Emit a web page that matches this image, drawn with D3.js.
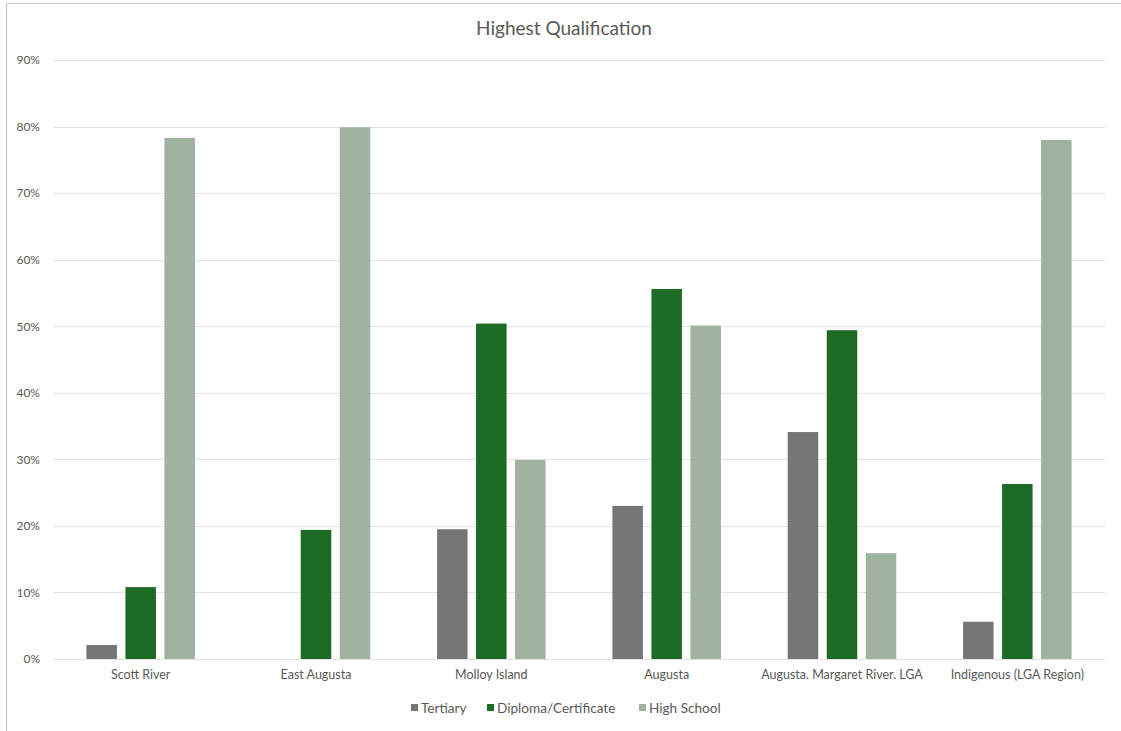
<!DOCTYPE html>
<html>
<head>
<meta charset="utf-8">
<script src="https://cdn.jsdelivr.net/npm/d3@7"></script>
<style>
  html, body { margin: 0; padding: 0; background: #fff; }
  svg { display: block; }
  text { font-family: Lato, "Noto Sans", sans-serif; }
</style>
</head>
<body>
<script>
const categories = ["Scott River", "East Augusta", "Molloy Island", "Augusta", "Augusta. Margaret River. LGA", "Indigenous (LGA Region)"];
const seriesNames = ["Tertiary", "Diploma/Certificate", "High School"];
const tertiary = [0.021, 0.0, 0.195, 0.230, 0.341, 0.056];
const diploma = [0.108, 0.194, 0.504, 0.556, 0.494, 0.263];
const highSchool = [0.783, 0.799, 0.299, 0.501, 0.159, 0.780];
const yTicks = [0, 0.1, 0.2, 0.3, 0.4, 0.5, 0.6, 0.7, 0.8, 0.9];
const colors = ["#767676", "#1E6B26", "#A0B2A0"];
const title = "Highest Qualification";

const W = 1121, H = 731;
const svg = d3.select("body").append("svg").attr("width", W).attr("height", H);

// frame
svg.append("line").attr("x1", 6.5).attr("x2", 6.5).attr("y1", 3).attr("y2", H).attr("stroke", "#c8c8c8").attr("stroke-width", 1.2);
svg.append("line").attr("x1", 6).attr("x2", W).attr("y1", 3.5).attr("y2", 3.5).attr("stroke", "#c8c8c8").attr("stroke-width", 1.2);

const x = d3.scaleBand().domain(categories).range([53, 1105]);
const y = d3.scaleLinear().domain([0, 0.9]).range([659, 60]);
const series = [tertiary, diploma, highSchool];

const barW = x.bandwidth() * 0.174;
const step = x.bandwidth() * 0.2225;

// gridlines
svg.append("g").selectAll("line").data(yTicks).join("line")
  .attr("x1", 53).attr("x2", 1105)
  .attr("y1", d => Math.round(y(d)) + 0.5).attr("y2", d => Math.round(y(d)) + 0.5)
  .attr("stroke", "#e3e3e3").attr("stroke-width", 1.2);

// y axis labels
const yAxis = d3.axisLeft(y).tickValues(yTicks).tickFormat(d3.format(".0%")).tickSize(0).tickPadding(0);
const yg = svg.append("g").attr("transform", "translate(40,0)").call(yAxis);
yg.select(".domain").remove();
yg.selectAll("text").attr("fill", "#595959").style("font-size", "12px").style("font-family", "Lato, sans-serif");

// bars
series.forEach((vals, si) => {
  svg.append("g").selectAll("rect").data(categories).join("rect")
    .attr("x", (c) => x(c) + x.bandwidth() / 2 + (si - 1) * step - barW / 2)
    .attr("width", barW)
    .attr("y", (c, i) => y(vals[i]))
    .attr("height", (c, i) => y(0) - y(vals[i]))
    .attr("fill", colors[si]);
});

// x axis labels
const xAxis = d3.axisBottom(x).tickSize(0).tickPadding(0);
const xg = svg.append("g").attr("transform", "translate(0,670)").call(xAxis);
xg.select(".domain").remove();
xg.selectAll("text").attr("fill", "#595959").style("font-size", "12.5px").style("font-family", "Lato, sans-serif");

// title
svg.append("text").attr("x", 564).attr("y", 35).attr("text-anchor", "middle")
  .attr("fill", "#595959").style("font-size", "19px").text(title);

// legend
const legendX = [411, 487, 639];
const lg = svg.append("g");
seriesNames.forEach((name, i) => {
  lg.append("rect").attr("x", legendX[i]).attr("y", 704).attr("width", 7).attr("height", 7).attr("fill", colors[i]);
  lg.append("text").attr("x", legendX[i] + 10).attr("y", 712.5)
    .attr("fill", "#595959").style("font-size", "13.6px").text(name);
});
</script>
</body>
</html>
